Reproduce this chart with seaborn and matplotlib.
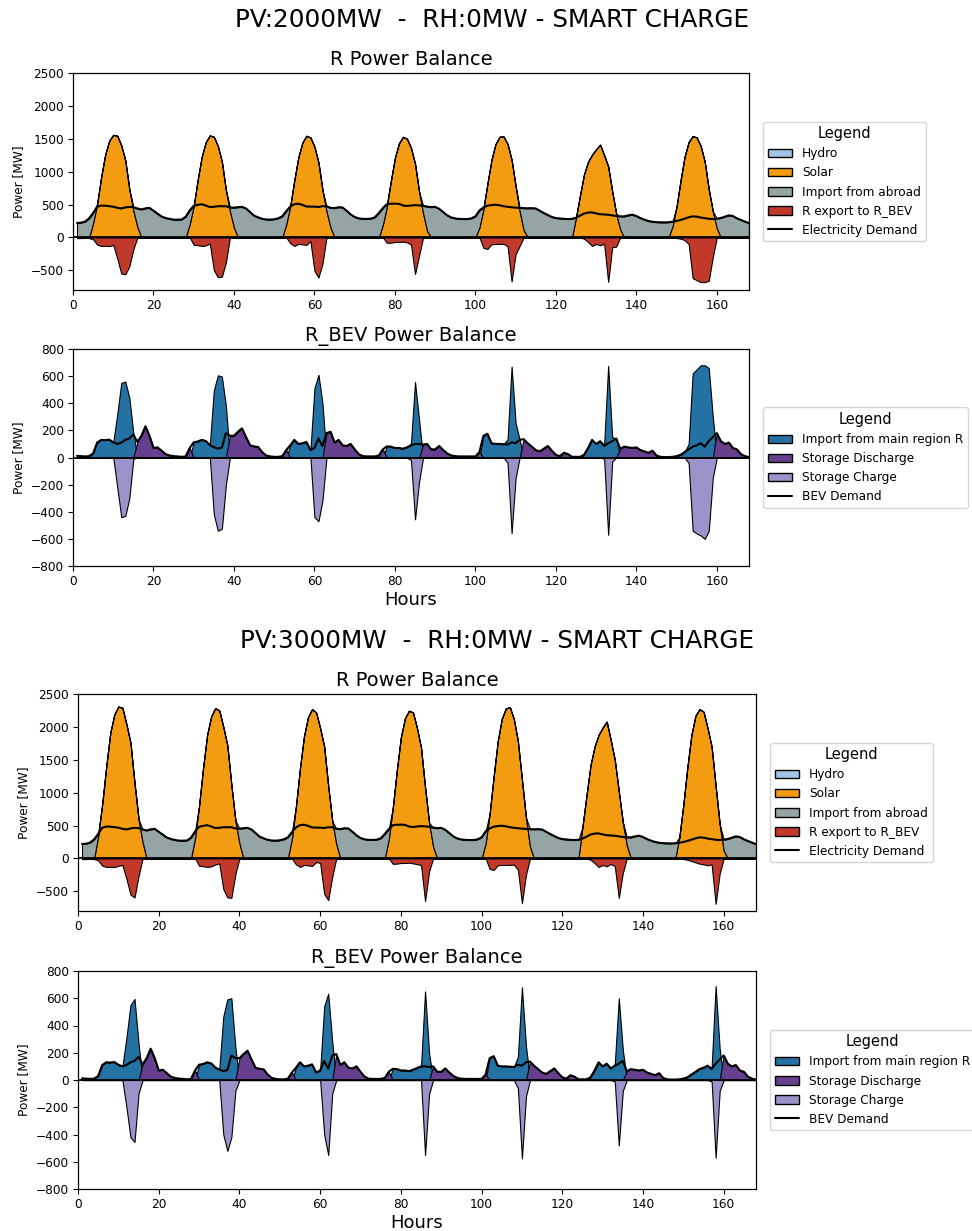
import numpy as np
import pandas as pd
import matplotlib
matplotlib.use("Agg")
import matplotlib.pyplot as plt
import seaborn as sns
from matplotlib.patches import Patch
from matplotlib.lines import Line2D

# ---------------------------------------------------------------- data
hours = list(range(1, 169))

# Electricity demand of region R [MW] (one row per day)
r_demand = [
    219, 224, 240, 290, 372, 465, 484, 482, 475, 467, 450, 440, 455, 464, 460, 440, 425, 442, 449, 405, 360, 318, 295, 281,
    270, 270, 272, 315, 410, 480, 495, 505, 485, 462, 465, 474, 474, 474, 455, 452, 460, 464, 440, 385, 330, 305, 283, 272,
    270, 276, 290, 321, 400, 470, 505, 512, 495, 470, 468, 468, 462, 474, 474, 450, 445, 459, 455, 405, 350, 310, 290, 281,
    281, 285, 305, 370, 445, 505, 512, 513, 510, 485, 478, 485, 490, 487, 480, 468, 460, 464, 435, 385, 335, 303, 288, 281,
    279, 279, 290, 320, 410, 455, 482, 492, 497, 488, 474, 465, 458, 452, 448, 445, 443, 445, 440, 405, 371, 340, 310, 294,
    288, 282, 279, 282, 300, 330, 362, 378, 380, 365, 352, 348, 345, 335, 325, 320, 320, 335, 345, 325, 294, 270, 250, 238,
    232, 229, 228, 231, 238, 250, 265, 285, 305, 320, 315, 302, 292, 283, 279, 285, 295, 315, 335, 325, 290, 265, 240, 218,
]

hydro = [0] * 168

# Solar production, PV 2000 MW case
solar_2000 = [
    0, 0, 0, 0, 220, 510, 920, 1260, 1470, 1560, 1545, 1400, 1170, 730, 410, 160, 0, 0, 0, 0, 0, 0, 0, 0,
    0, 0, 0, 0, 200, 480, 880, 1230, 1450, 1550, 1530, 1390, 1150, 720, 400, 150, 0, 0, 0, 0, 0, 0, 0, 0,
    0, 0, 0, 0, 200, 480, 870, 1220, 1440, 1545, 1520, 1380, 1140, 720, 400, 150, 0, 0, 0, 0, 0, 0, 0, 0,
    0, 0, 0, 0, 190, 470, 860, 1210, 1430, 1530, 1500, 1360, 1120, 700, 370, 100, 0, 0, 0, 0, 0, 0, 0, 0,
    0, 0, 0, 0, 150, 430, 820, 1180, 1420, 1530, 1535, 1420, 1180, 780, 400, 110, 0, 0, 0, 0, 0, 0, 0, 0,
    0, 0, 0, 0, 300, 640, 960, 1150, 1260, 1340, 1410, 1250, 1080, 700, 360, 120, 0, 0, 0, 0, 0, 0, 0, 0,
    0, 0, 0, 0, 170, 470, 870, 1230, 1450, 1540, 1520, 1390, 1150, 730, 400, 140, 0, 0, 0, 0, 0, 0, 0, 0,
]

# Import from abroad, PV 2000 MW case
abroad_2000 = [
    219, 224, 240, 290, 152, 0, 0, 0, 0, 0, 0, 0, 0, 0, 50, 280, 425, 442, 449, 405, 360, 318, 295, 281,
    270, 270, 272, 315, 210, 0, 0, 0, 0, 0, 0, 0, 0, 0, 55, 302, 460, 464, 440, 385, 330, 305, 283, 272,
    270, 276, 290, 321, 200, 0, 0, 0, 0, 0, 0, 0, 0, 0, 74, 300, 445, 459, 455, 405, 350, 310, 290, 281,
    281, 285, 305, 370, 255, 35, 0, 0, 0, 0, 0, 0, 0, 0, 110, 368, 460, 464, 435, 385, 335, 303, 288, 281,
    279, 279, 290, 320, 260, 25, 0, 0, 0, 0, 0, 0, 0, 0, 48, 335, 443, 445, 440, 405, 371, 340, 310, 294,
    288, 282, 279, 282, 0, 0, 0, 0, 0, 0, 0, 0, 0, 0, 0, 200, 320, 335, 345, 325, 294, 270, 250, 238,
    232, 229, 228, 231, 68, 0, 0, 0, 0, 0, 0, 0, 0, 0, 0, 145, 295, 315, 335, 325, 290, 265, 240, 218,
]

# Solar production, PV 3000 MW case
solar_3000 = [
    0, 0, 0, 0, 340, 830, 1400, 1910, 2190, 2310, 2290, 2040, 1760, 1150, 600, 250, 0, 0, 0, 0, 0, 0, 0, 0,
    0, 0, 0, 0, 310, 800, 1380, 1880, 2160, 2285, 2250, 2000, 1720, 1120, 580, 230, 0, 0, 0, 0, 0, 0, 0, 0,
    0, 0, 0, 0, 300, 790, 1370, 1860, 2150, 2270, 2220, 1980, 1700, 1100, 570, 220, 0, 0, 0, 0, 0, 0, 0, 0,
    0, 0, 0, 0, 290, 770, 1340, 1840, 2130, 2245, 2220, 1980, 1680, 1080, 540, 180, 0, 0, 0, 0, 0, 0, 0, 0,
    0, 0, 0, 0, 230, 680, 1250, 1780, 2120, 2280, 2300, 2120, 1780, 1200, 620, 180, 0, 0, 0, 0, 0, 0, 0, 0,
    0, 0, 0, 0, 480, 960, 1420, 1700, 1880, 1990, 2080, 1800, 1500, 1020, 550, 200, 0, 0, 0, 0, 0, 0, 0, 0,
    0, 0, 0, 0, 320, 820, 1390, 1880, 2170, 2270, 2230, 1980, 1700, 1100, 520, 120, 0, 0, 0, 0, 0, 0, 0, 0,
]

# Import from abroad, PV 3000 MW case
abroad_3000 = [
    219, 224, 240, 290, 32, 0, 0, 0, 0, 0, 0, 0, 0, 0, 0, 190, 425, 442, 449, 405, 360, 318, 295, 281,
    270, 270, 272, 315, 100, 0, 0, 0, 0, 0, 0, 0, 0, 0, 0, 222, 460, 464, 440, 385, 330, 305, 283, 272,
    270, 276, 290, 321, 100, 0, 0, 0, 0, 0, 0, 0, 0, 0, 0, 230, 445, 459, 455, 405, 350, 310, 290, 281,
    281, 285, 305, 370, 155, 0, 0, 0, 0, 0, 0, 0, 0, 0, 0, 288, 460, 464, 435, 385, 335, 303, 288, 281,
    279, 279, 290, 320, 180, 0, 0, 0, 0, 0, 0, 0, 0, 0, 0, 265, 443, 445, 440, 405, 371, 340, 310, 294,
    288, 282, 279, 282, 0, 0, 0, 0, 0, 0, 0, 0, 0, 0, 0, 120, 320, 335, 345, 325, 294, 270, 250, 238,
    232, 229, 228, 231, 0, 0, 0, 0, 0, 0, 0, 0, 0, 0, 0, 165, 295, 315, 335, 325, 290, 265, 240, 218,
]

# BEV charging demand [MW]
bev_demand = [
    12, 10, 8, 10, 30, 110, 130, 128, 132, 112, 100, 110, 130, 140, 170, 115, 160, 230, 160, 70, 75, 50, 25, 15,
    10, 8, 5, 8, 70, 112, 118, 130, 122, 92, 76, 66, 72, 180, 160, 160, 190, 215, 150, 90, 82, 78, 40, 15,
    8, 5, 5, 10, 55, 90, 130, 100, 105, 115, 55, 70, 140, 84, 180, 190, 110, 130, 90, 85, 100, 60, 25, 10,
    8, 8, 8, 15, 60, 82, 80, 70, 70, 65, 75, 88, 100, 100, 95, 100, 60, 60, 85, 55, 30, 15, 10, 8,
    8, 8, 8, 8, 40, 160, 175, 105, 100, 100, 98, 95, 112, 105, 130, 135, 105, 80, 55, 45, 65, 85, 50, 20,
    10, 35, 25, 5, 5, 5, 20, 70, 130, 100, 120, 85, 105, 120, 140, 65, 80, 75, 70, 75, 55, 45, 35, 50,
    15, 5, 3, 3, 5, 10, 20, 40, 60, 80, 90, 105, 80, 120, 150, 180, 120, 100, 110, 70, 60, 25, 10, 3,
]

# R_BEV flows, PV 2000 MW case
bev_import_2000 = [
    12, 10, 8, 10, 30, 110, 130, 128, 132, 112, 320, 550, 560, 440, 180, 0, 0, 0, 0, 0, 0, 0, 0, 0,
    0, 0, 0, 0, 0, 112, 118, 130, 122, 92, 496, 606, 597, 380, 0, 0, 0, 0, 0, 0, 0, 0, 0, 0,
    0, 0, 0, 0, 0, 90, 130, 100, 105, 115, 55, 510, 610, 400, 0, 0, 0, 0, 0, 0, 0, 0, 0, 0,
    0, 0, 0, 0, 0, 82, 80, 70, 70, 65, 75, 108, 556, 280, 0, 0, 0, 0, 0, 0, 0, 0, 0, 0,
    0, 0, 0, 0, 0, 160, 175, 105, 100, 100, 98, 135, 670, 255, 130, 0, 0, 0, 0, 0, 0, 0, 0, 0,
    0, 0, 0, 0, 0, 0, 20, 70, 130, 100, 120, 95, 675, 150, 140, 0, 0, 0, 0, 0, 0, 0, 0, 0,
    0, 0, 0, 0, 0, 10, 20, 40, 100, 620, 650, 680, 680, 660, 300, 0, 0, 0, 0, 0, 0, 0, 0, 0,
]
discharge_2000 = [
    0, 0, 0, 0, 0, 0, 0, 0, 0, 0, 0, 0, 0, 0, 0, 115, 160, 230, 160, 70, 75, 50, 25, 15,
    10, 8, 5, 8, 70, 0, 0, 0, 0, 0, 0, 0, 0, 0, 160, 160, 190, 215, 150, 90, 82, 78, 40, 15,
    8, 5, 5, 10, 55, 0, 0, 0, 0, 0, 0, 0, 0, 0, 180, 190, 110, 130, 90, 85, 100, 60, 25, 10,
    8, 8, 8, 15, 60, 0, 0, 0, 0, 0, 0, 0, 0, 0, 95, 100, 60, 60, 85, 55, 30, 15, 10, 8,
    8, 8, 8, 8, 40, 0, 0, 0, 0, 0, 0, 0, 0, 0, 0, 135, 105, 80, 55, 45, 65, 85, 50, 20,
    10, 35, 25, 5, 5, 5, 0, 0, 0, 0, 0, 0, 0, 0, 0, 65, 80, 75, 70, 75, 55, 45, 35, 50,
    15, 5, 3, 3, 5, 0, 0, 0, 0, 0, 0, 0, 0, 0, 0, 180, 120, 100, 110, 70, 60, 25, 10, 3,
]
charge_2000 = [
    0, 0, 0, 0, 0, 0, 0, 0, 0, 0, -220, -440, -430, -300, -10, 0, 0, 0, 0, 0, 0, 0, 0, 0,
    0, 0, 0, 0, 0, 0, 0, 0, 0, 0, -420, -540, -525, -200, 0, 0, 0, 0, 0, 0, 0, 0, 0, 0,
    0, 0, 0, 0, 0, 0, 0, 0, 0, 0, 0, -440, -470, -316, 0, 0, 0, 0, 0, 0, 0, 0, 0, 0,
    0, 0, 0, 0, 0, 0, 0, 0, 0, 0, 0, -20, -456, -180, 0, 0, 0, 0, 0, 0, 0, 0, 0, 0,
    0, 0, 0, 0, 0, 0, 0, 0, 0, 0, 0, -40, -558, -150, 0, 0, 0, 0, 0, 0, 0, 0, 0, 0,
    0, 0, 0, 0, 0, 0, 0, 0, 0, 0, 0, -10, -570, -30, 0, 0, 0, 0, 0, 0, 0, 0, 0, 0,
    0, 0, 0, 0, 0, 0, 0, 0, -40, -540, -560, -575, -600, -540, -150, 0, 0, 0, 0, 0, 0, 0, 0, 0,
]

# R_BEV flows, PV 3000 MW case
bev_import_3000 = [
    12, 10, 8, 10, 30, 110, 130, 128, 132, 112, 100, 310, 550, 595, 270, 0, 0, 0, 0, 0, 0, 0, 0, 0,
    0, 0, 0, 0, 0, 112, 118, 130, 122, 92, 76, 466, 592, 600, 240, 0, 0, 0, 0, 0, 0, 0, 0, 0,
    0, 0, 0, 0, 0, 90, 130, 100, 105, 115, 55, 70, 540, 634, 280, 0, 0, 0, 0, 0, 0, 0, 0, 0,
    0, 0, 0, 0, 0, 82, 80, 70, 70, 65, 75, 88, 100, 650, 195, 0, 0, 0, 0, 0, 0, 0, 0, 0,
    0, 0, 0, 0, 0, 160, 175, 105, 100, 100, 98, 95, 172, 680, 250, 0, 0, 0, 0, 0, 0, 0, 0, 0,
    0, 0, 0, 0, 0, 0, 20, 70, 130, 100, 120, 85, 115, 600, 220, 0, 0, 0, 0, 0, 0, 0, 0, 0,
    0, 0, 0, 0, 0, 10, 20, 40, 60, 80, 90, 105, 90, 690, 230, 0, 0, 0, 0, 0, 0, 0, 0, 0,
]
discharge_3000 = [
    0, 0, 0, 0, 0, 0, 0, 0, 0, 0, 0, 0, 0, 0, 0, 115, 160, 230, 160, 70, 75, 50, 25, 15,
    10, 8, 5, 8, 70, 0, 0, 0, 0, 0, 0, 0, 0, 0, 0, 160, 190, 215, 150, 90, 82, 78, 40, 15,
    8, 5, 5, 10, 55, 0, 0, 0, 0, 0, 0, 0, 0, 0, 0, 190, 110, 130, 90, 85, 100, 60, 25, 10,
    8, 8, 8, 15, 60, 0, 0, 0, 0, 0, 0, 0, 0, 0, 0, 100, 60, 60, 85, 55, 30, 15, 10, 8,
    8, 8, 8, 8, 40, 0, 0, 0, 0, 0, 0, 0, 0, 0, 0, 135, 105, 80, 55, 45, 65, 85, 50, 20,
    10, 35, 25, 5, 5, 5, 0, 0, 0, 0, 0, 0, 0, 0, 0, 65, 80, 75, 70, 75, 55, 45, 35, 50,
    15, 5, 3, 3, 5, 0, 0, 0, 0, 0, 0, 0, 0, 0, 0, 180, 120, 100, 110, 70, 60, 25, 10, 3,
]
charge_3000 = [
    0, 0, 0, 0, 0, 0, 0, 0, 0, 0, 0, -200, -420, -455, -100, 0, 0, 0, 0, 0, 0, 0, 0, 0,
    0, 0, 0, 0, 0, 0, 0, 0, 0, 0, 0, -400, -520, -420, -80, 0, 0, 0, 0, 0, 0, 0, 0, 0,
    0, 0, 0, 0, 0, 0, 0, 0, 0, 0, 0, 0, -400, -550, -100, 0, 0, 0, 0, 0, 0, 0, 0, 0,
    0, 0, 0, 0, 0, 0, 0, 0, 0, 0, 0, 0, 0, -550, -100, 0, 0, 0, 0, 0, 0, 0, 0, 0,
    0, 0, 0, 0, 0, 0, 0, 0, 0, 0, 0, 0, -60, -575, -120, 0, 0, 0, 0, 0, 0, 0, 0, 0,
    0, 0, 0, 0, 0, 0, 0, 0, 0, 0, 0, 0, -10, -480, -80, 0, 0, 0, 0, 0, 0, 0, 0, 0,
    0, 0, 0, 0, 0, 0, 0, 0, 0, 0, 0, 0, -10, -570, -80, 0, 0, 0, 0, 0, 0, 0, 0, 0,
]

scenarios = ["PV:2000MW  -  RH:0MW - SMART CHARGE", "PV:3000MW  -  RH:0MW - SMART CHARGE"]

# ---------------------------------------------------------------- style
sns.set_theme(style="ticks", rc={
    "axes.edgecolor": "black",
    "axes.linewidth": 0.9,
    "axes.labelcolor": "black",
    "text.color": "black",
    "xtick.color": "black",
    "ytick.color": "black",
    "xtick.labelsize": 8.7,
    "ytick.labelsize": 8.7,
    "xtick.major.size": 3.5,
    "ytick.major.size": 3.5,
    "xtick.major.width": 0.8,
    "ytick.major.width": 0.8,
    "xtick.major.pad": 3.0,
    "ytick.major.pad": 3.0,
})
plt.rcParams["font.family"] = ["DejaVu Sans"]

C_HYDRO = "#9fc5e8"
C_SOLAR = "#f39c12"
C_ABROAD = "#95a5a6"
C_EXPORT = "#c0392b"
C_BEV_IMPORT = "#2471a3"
C_DISCHARGE = "#663f8f"
C_CHARGE = "#9b93c9"
EDGE_LW = 0.8

W, H = 972, 1231
fig = plt.figure(figsize=(W / 100, H / 100), dpi=100)


def add_axes_px(left, top, right, bottom):
    return fig.add_axes([left / W, 1 - bottom / H, (right - left) / W, (bottom - top) / H])


def legend_right(ax, handles):
    ax.legend(handles=handles, title="Legend", loc="center left",
              bbox_to_anchor=(1.012, 0.5), fontsize=8.7, title_fontsize=10.5)


def draw_region_r(ax, solar, abroad, export):
    ax.stackplot(hours, hydro, solar, abroad, colors=[C_HYDRO, C_SOLAR, C_ABROAD],
                 edgecolor="black", linewidth=EDGE_LW)
    ax.fill_between(hours, 0, -np.asarray(export), facecolor=C_EXPORT,
                    edgecolor="black", linewidth=EDGE_LW)
    ax.axhline(0, color="black", lw=1.3)
    df = pd.DataFrame({"hour": hours, "demand": r_demand})
    sns.lineplot(data=df, x="hour", y="demand", color="black", lw=1.5, ax=ax)
    ax.set_xlim(0, 168)
    ax.set_ylim(-800, 2500)
    ax.set_xticks(range(0, 161, 20))
    ax.set_yticks(range(-500, 2501, 500))
    ax.set_title("R Power Balance", fontsize=14)
    ax.set_xlabel("")
    ax.set_ylabel("Power [MW]", fontsize=8.7)
    legend_right(ax, [
        Patch(facecolor=C_HYDRO, edgecolor="black", label="Hydro"),
        Patch(facecolor=C_SOLAR, edgecolor="black", label="Solar"),
        Patch(facecolor=C_ABROAD, edgecolor="black", label="Import from abroad"),
        Patch(facecolor=C_EXPORT, edgecolor="black", label="R export to R_BEV"),
        Line2D([], [], color="black", lw=1.5, label="Electricity Demand"),
    ])


def draw_region_bev(ax, imports, discharge, charge):
    ax.fill_between(hours, 0, imports, facecolor=C_BEV_IMPORT, edgecolor="black", linewidth=EDGE_LW)
    ax.fill_between(hours, 0, discharge, facecolor=C_DISCHARGE, edgecolor="black", linewidth=EDGE_LW)
    ax.fill_between(hours, 0, charge, facecolor=C_CHARGE, edgecolor="black", linewidth=EDGE_LW)
    ax.axhline(0, color="black", lw=1.3)
    df = pd.DataFrame({"hour": hours, "demand": bev_demand})
    sns.lineplot(data=df, x="hour", y="demand", color="black", lw=1.5, ax=ax)
    ax.set_xlim(0, 168)
    ax.set_ylim(-800, 800)
    ax.set_xticks(range(0, 161, 20))
    ax.set_yticks(range(-800, 801, 200))
    ax.set_title("R_BEV Power Balance", fontsize=14)
    ax.set_xlabel("Hours", fontsize=13, labelpad=2)
    ax.set_ylabel("Power [MW]", fontsize=8.7)
    legend_right(ax, [
        Patch(facecolor=C_BEV_IMPORT, edgecolor="black", label="Import from main region R"),
        Patch(facecolor=C_DISCHARGE, edgecolor="black", label="Storage Discharge"),
        Patch(facecolor=C_CHARGE, edgecolor="black", label="Storage Charge"),
        Line2D([], [], color="black", lw=1.5, label="BEV Demand"),
    ])


# PV 2000 MW block
fig.text(492 / W, 1 - 20 / H, scenarios[0], ha="center", va="center", fontsize=17.8)
ax1 = add_axes_px(73, 73, 749, 290)
ax2 = add_axes_px(73, 349, 749, 566)
draw_region_r(ax1, solar_2000, abroad_2000, bev_import_2000)
draw_region_bev(ax2, bev_import_2000, discharge_2000, charge_2000)

# PV 3000 MW block
fig.text(497 / W, 1 - 641 / H, scenarios[1], ha="center", va="center", fontsize=17.8)
ax3 = add_axes_px(78, 694, 756, 911)
ax4 = add_axes_px(78, 971, 756, 1189)
draw_region_r(ax3, solar_3000, abroad_3000, bev_import_3000)
draw_region_bev(ax4, bev_import_3000, discharge_3000, charge_3000)

fig.savefig("out.png", dpi=100)
